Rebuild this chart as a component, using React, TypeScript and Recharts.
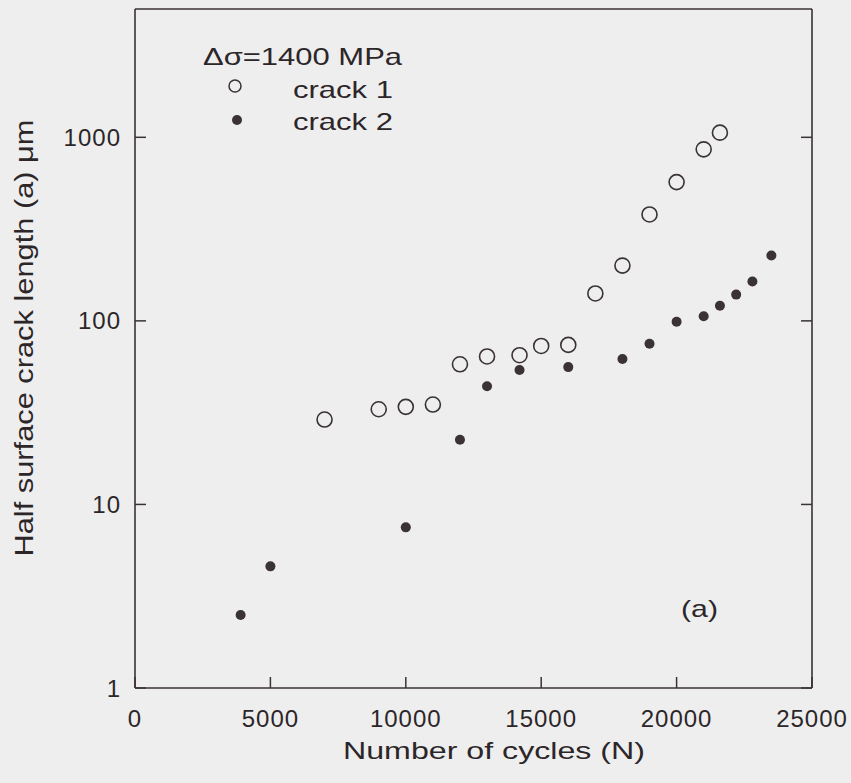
import React from "react";
import { ScatterChart, Scatter, XAxis, YAxis, Legend } from "recharts";

// ---- data ----
const crack1Cycles = [7000, 9000, 10000, 11000, 12000, 13000, 14200, 15000, 16000, 17000, 18000, 19000, 20000, 21000, 21600];
const crack1Length = [29, 33, 34, 35, 58, 64, 65, 73, 74, 141, 200, 380, 570, 860, 1060];
const crack2Cycles = [3900, 5000, 10000, 12000, 13000, 14200, 16000, 18000, 19000, 20000, 21000, 21600, 22200, 22800, 23500];
const crack2Length = [2.5, 4.6, 7.5, 22.5, 44, 54, 56, 62, 75, 99, 106, 121, 139, 164, 227];
const xTicks = [0, 5000, 10000, 15000, 20000, 25000];
const yTicks = [1, 10, 100, 1000];
const stressLabel = "Δσ=1400 MPa";
const panelLabel = "(a)";
const xTitle = "Number of cycles (N)";
const yTitle = "Half surface crack length (a) μm";

const crack1 = crack1Cycles.map((n, i) => ({ n, a: crack1Length[i] }));
const crack2 = crack2Cycles.map((n, i) => ({ n, a: crack2Length[i] }));

const INK = "#2c2629";
const LINE = "#3a3235";
const FONT = "'Liberation Sans', Arial, Helvetica, sans-serif";
const TICK = 11;

const tickText = { fill: INK, fontSize: 24, fontFamily: FONT, letterSpacing: 1 };
const tickLineStyle = { stroke: LINE, strokeWidth: 1.5 };
const axisLineStyle = { stroke: LINE, strokeWidth: 1.6 };

const OpenCircle = (props: any) => (
    <circle cx={props.cx} cy={props.cy} r={7.5} fill="none" stroke={LINE} strokeWidth={1.6} />
);
const FilledDot = (props: any) => <circle cx={props.cx} cy={props.cy} r={5} fill={LINE} />;

const NoTick = () => <g />;

// legend + axis titles + panel letter, in one overlay
const renderLegend = (props: any) => {
    const items = props.payload || [];
    return (
        <svg width={851} height={783} style={{ overflow: "visible", pointerEvents: "none" }}>
            <text x={203} y={65} fill={INK} fontSize={24} fontFamily={FONT} textLength={199} lengthAdjust="spacingAndGlyphs">
                {stressLabel}
            </text>
            <circle cx={235} cy={86} r={6} fill="none" stroke={LINE} strokeWidth={1.5} />
            <text x={293} y={98} fill={INK} fontSize={24} fontFamily={FONT} textLength={100} lengthAdjust="spacingAndGlyphs">
                {items[0] ? items[0].value : ""}
            </text>
            <circle cx={237} cy={120} r={5} fill={LINE} />
            <text x={293} y={130} fill={INK} fontSize={24} fontFamily={FONT} textLength={100} lengthAdjust="spacingAndGlyphs">
                {items[1] ? items[1].value : ""}
            </text>
            <text x={681} y={617} fill={INK} fontSize={24} fontFamily={FONT} textLength={37} lengthAdjust="spacingAndGlyphs">
                {panelLabel}
            </text>
            <text x={494} y={759} textAnchor="middle" fill={INK} fontSize={24} fontFamily={FONT} textLength={302} lengthAdjust="spacingAndGlyphs">
                {xTitle}
            </text>
            <text
                x={33}
                y={338}
                transform="rotate(-90, 33, 338)"
                textAnchor="middle"
                fill={INK}
                fontSize={25}
                fontFamily={FONT}
                textLength={437}
                lengthAdjust="spacingAndGlyphs"
            >
                {yTitle}
            </text>
        </svg>
    );
};

export default function App() {
    return (
        <div style={{ position: "absolute", left: 0, top: 0, width: 851, height: 783, background: "#eeeeee" }}>
            <ScatterChart width={851} height={783} margin={{ top: 0, right: 0, bottom: 0, left: 0 }}>
                <XAxis
                    dataKey="n"
                    type="number"
                    domain={[0, 25000]}
                    ticks={xTicks}
                    allowDataOverflow
                    interval={0}
                    height={95}
                    tickSize={-TICK}
                    tickMargin={33}
                    stroke={LINE}
                    tickLine={tickLineStyle}
                    axisLine={axisLineStyle}
                    tick={tickText}
                />
                <XAxis
                    xAxisId="top"
                    orientation="top"
                    type="number"
                    domain={[0, 25000]}
                    ticks={xTicks}
                    allowDataOverflow
                    height={9}
                    tickSize={-TICK}
                    stroke={LINE}
                    tickLine={tickLineStyle}
                    axisLine={axisLineStyle}
                    tick={<NoTick />}
                />
                <YAxis
                    dataKey="a"
                    type="number"
                    scale="log"
                    domain={[1, 5000]}
                    ticks={yTicks}
                    allowDataOverflow
                    interval={0}
                    width={135}
                    tickSize={-TICK}
                    tickMargin={25}
                    stroke={LINE}
                    tickLine={tickLineStyle}
                    axisLine={axisLineStyle}
                    tick={tickText}
                />
                <YAxis
                    yAxisId="right"
                    orientation="right"
                    type="number"
                    scale="log"
                    domain={[1, 5000]}
                    ticks={yTicks}
                    allowDataOverflow
                    width={39}
                    tickSize={-TICK}
                    stroke={LINE}
                    tickLine={tickLineStyle}
                    axisLine={axisLineStyle}
                    tick={<NoTick />}
                />
                <Legend
                    layout="vertical"
                    align="center"
                    verticalAlign="middle"
                    content={renderLegend}
                    wrapperStyle={{ left: 0, top: 0, width: 851, height: 783, pointerEvents: "none" }}
                />
                <Scatter name="crack 1" data={crack1} shape={<OpenCircle />} isAnimationActive={false} />
                <Scatter name="crack 2" data={crack2} shape={<FilledDot />} isAnimationActive={false} />
            </ScatterChart>
        </div>
    );
}
